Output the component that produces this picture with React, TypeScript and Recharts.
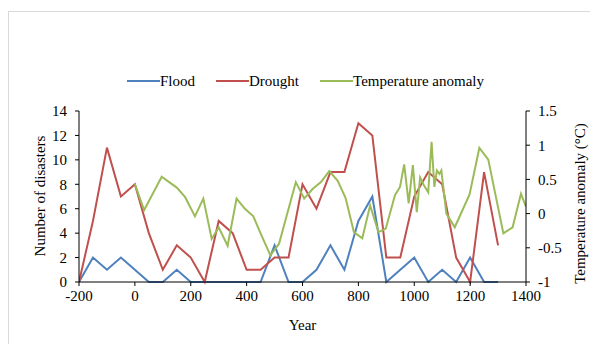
import { Legend, Line, LineChart, XAxis, YAxis } from "recharts";

const FONT = "Liberation Serif, Times New Roman, serif";
const FLOOD_COLOR = "#4f81bd";
const DROUGHT_COLOR = "#c0504d";
const TEMP_COLOR = "#9bbb59";

// disaster counts every 50 years
const years = [
  -200, -150, -100, -50, 0, 50, 100, 150, 200, 250, 300, 350, 400, 450, 500, 550,
  600, 650, 700, 750, 800, 850, 900, 950, 1000, 1050, 1100, 1150, 1200, 1250, 1300,
];
const flood = [0, 2, 1, 2, 1, 0, 0, 1, 0, 0, 0, 0, 0, 0, 3, 0, 0, 1, 3, 1, 5, 7, 0, 1, 2, 0, 1, 0, 2, 0, 0];
const drought = [0, 5, 11, 7, 8, 4, 1, 3, 2, 0, 5, 4, 1, 1, 2, 2, 8, 6, 9, 9, 13, 12, 2, 2, 7, 9, 8, 2, 0, 9, 3];

// temperature anomaly (°C)
const tempYears = [
  0, 33, 96, 150, 180, 215, 245, 275, 300, 332, 364, 394, 424, 450, 485, 516, 576, 606,
  636, 666, 696, 726, 754, 784, 814, 842, 872, 898, 931, 949, 964, 980, 995, 1009, 1021,
  1035, 1050, 1062, 1072, 1081, 1090, 1097, 1115, 1145, 1198, 1233, 1265, 1319, 1352,
  1382, 1400,
];
const tempAnomaly = [
  0.43, 0.05, 0.54, 0.38, 0.24, -0.04, 0.22, -0.37, -0.2, -0.47, 0.22, 0.07, -0.04, -0.29,
  -0.61, -0.44, 0.46, 0.22, 0.36, 0.46, 0.62, 0.48, 0.23, -0.27, -0.36, 0.12, -0.27, -0.22,
  0.27, 0.39, 0.72, 0.15, 0.71, 0.02, 0.53, 0.41, 0.31, 1.05, 0.39, 0.63, 0.58, 0.63, 0.0,
  -0.2, 0.28, 0.96, 0.79, -0.29, -0.2, 0.29, 0.1,
];

const seriesOrder = ["Flood", "Drought", "Temperature anomaly"];
const xTicks = [-200, 0, 200, 400, 600, 800, 1000, 1200, 1400];
const leftTicks = [0, 2, 4, 6, 8, 10, 12, 14];
const rightTicks = [-1, -0.5, 0, 0.5, 1, 1.5];

const floodData = years.map((year, i) => ({ year, flood: flood[i] }));
const droughtData = years.map((year, i) => ({ year, drought: drought[i] }));
const tempData = tempYears.map((year, i) => ({ year, temp: tempAnomaly[i] }));

function AxisTick(props: any) {
  const { x, y, payload, textAnchor, dy } = props;
  return (
    <text x={x} y={y} dy={dy} textAnchor={textAnchor} fontSize={15} fontFamily={FONT} fill="#000">
      {payload.value}
    </text>
  );
}

function renderLegend(props: any) {
  const items = [...(props.payload || [])].sort(
    (a: any, b: any) => seriesOrder.indexOf(a.value) - seriesOrder.indexOf(b.value)
  );
  return (
    <div style={{ display: "flex", alignItems: "center", marginLeft: 119, gap: 21, height: 18 }}>
      {items.map((p: any) => (
        <div key={p.value} style={{ display: "flex", alignItems: "center" }}>
          <span style={{ display: "inline-block", width: 33, height: 2, background: p.color }} />
          <span style={{ fontSize: 15, fontFamily: FONT, color: "#000", lineHeight: "18px" }}>{p.value}</span>
        </div>
      ))}
    </div>
  );
}

export default function App() {
  return (
    <div style={{ position: "relative", width: 590, height: 336, overflow: "hidden", background: "#fff", fontFamily: FONT }}>
      <div
        style={{
          position: "absolute",
          left: 0,
          top: 3,
          width: 700,
          height: 500,
          border: "1px solid #d9d9d9",
        }}
      />
      <LineChart width={590} height={336} margin={{ top: 103, right: 0, bottom: 0, left: 0 }}>
        <XAxis
          dataKey="year"
          type="number"
          domain={[-200, 1400]}
          ticks={xTicks}
          allowDataOverflow
          height={62}
          tick={(p: any) => <AxisTick {...p} dy="0.71em" />}
          tickSize={4}
          tickMargin={4}
          axisLine={{ stroke: "#000" }}
          tickLine={{ stroke: "#000" }}
          label={() => (
            <text x={294.5} y={322} textAnchor="middle" fontSize={15} fontFamily={FONT} fill="#000">
              Year
            </text>
          )}
        />
        <YAxis
          yAxisId="left"
          orientation="left"
          domain={[0, 14]}
          ticks={leftTicks}
          width={71}
          tick={(p: any) => <AxisTick {...p} dy="0.355em" />}
          tickSize={4}
          tickMargin={8}
          axisLine={{ stroke: "#000" }}
          tickLine={{ stroke: "#000" }}
          label={() => (
            <text
              x={32}
              y={188}
              transform="rotate(-90 32 188)"
              textAnchor="middle"
              dominantBaseline="central"
              fontSize={15}
              fontFamily={FONT}
              fill="#000"
            >
              Number of disasters
            </text>
          )}
        />
        <YAxis
          yAxisId="right"
          orientation="right"
          domain={[-1, 1.5]}
          ticks={rightTicks}
          width={72}
          tick={(p: any) => <AxisTick {...p} dy="0.355em" />}
          tickSize={4}
          tickMargin={8}
          axisLine={{ stroke: "#000" }}
          tickLine={{ stroke: "#000" }}
          label={() => (
            <text
              x={572}
              y={195.5}
              transform="rotate(-90 572 195.5)"
              textAnchor="middle"
              dominantBaseline="central"
              fontSize={15}
              fontFamily={FONT}
              fill="#000"
            >
              Temperature anomaly (°C)
            </text>
          )}
        />
        <Legend
          layout="horizontal"
          verticalAlign="middle"
          align="center"
          wrapperStyle={{ top: 64, left: 0, width: 590 }}
          content={renderLegend}
        />
        <Line
          data={floodData}
          dataKey="flood"
          name="Flood"
          yAxisId="left"
          type="linear"
          stroke={FLOOD_COLOR}
          strokeWidth={2}
          dot={false}
          isAnimationActive={false}
        />
        <Line
          data={droughtData}
          dataKey="drought"
          name="Drought"
          yAxisId="left"
          type="linear"
          stroke={DROUGHT_COLOR}
          strokeWidth={2}
          dot={false}
          isAnimationActive={false}
        />
        <Line
          data={tempData}
          dataKey="temp"
          name="Temperature anomaly"
          yAxisId="right"
          type="linear"
          stroke={TEMP_COLOR}
          strokeWidth={2}
          dot={false}
          isAnimationActive={false}
        />
      </LineChart>
    </div>
  );
}
